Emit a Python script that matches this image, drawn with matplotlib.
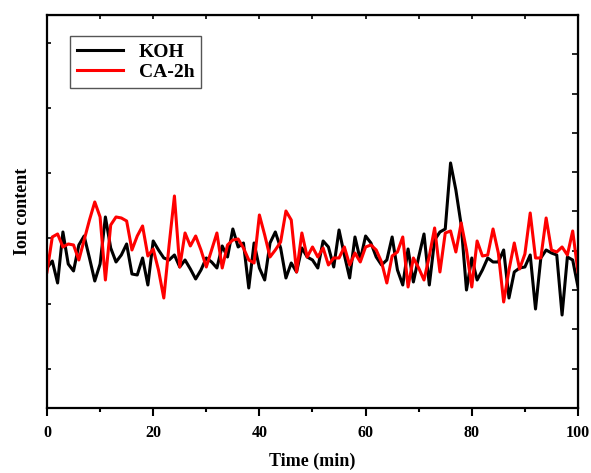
import numpy as np
import matplotlib
matplotlib.use("Agg")
import matplotlib.pyplot as plt
from matplotlib.ticker import MultipleLocator, NullFormatter

plt.rcParams['font.family'] = ['Liberation Serif', 'DejaVu Serif']
plt.rcParams['font.weight'] = 'bold'

# time in minutes, one reading per minute
time_min = np.arange(0, 101)

# ion content (arbitrary units, unlabeled axis)
koh = [140, 147, 125, 176, 144, 137, 163, 172, 150, 127, 144, 191, 160, 146, 153, 164, 134, 133, 150, 123, 167,
       158, 150, 148, 153, 141, 148, 139, 129, 138, 150, 146, 140, 162, 151, 179, 161, 165, 120, 165, 140,
       128, 165, 176, 160, 130, 145, 136, 160, 151, 148, 140, 167, 161, 141, 178, 153, 130, 171, 148, 172,
       165, 151, 143, 148, 171, 138, 123, 159, 126, 151, 174, 123, 168, 176, 179, 245, 218, 183, 118, 150,
       128, 138, 150, 146, 146, 158, 110, 136, 140, 141, 153, 99, 150, 158, 155, 153, 93, 151, 148, 121]
ca_2h = [136, 171, 174, 161, 164, 163, 148, 168, 188, 206, 191, 128, 183, 191, 190, 187, 158, 172, 182, 152, 159,
         138, 110, 163, 212, 141, 175, 162, 172, 158, 141, 158, 175, 140, 163, 168, 169, 160, 148, 145, 193,
         173, 151, 158, 166, 197, 188, 136, 175, 151, 161, 151, 160, 143, 150, 150, 161, 143, 155, 146, 161,
         163, 158, 146, 125, 152, 156, 171, 121, 150, 140, 128, 152, 180, 136, 175, 177, 156, 185, 158, 121,
         167, 152, 153, 179, 155, 106, 138, 165, 139, 154, 195, 150, 150, 190, 158, 156, 161, 153, 177, 136]

left_ticks = [39, 104, 170, 235, 300, 365]
right_ticks = np.linspace(0, 393, 11)

fig = plt.figure(figsize=(5.91, 4.73), dpi=100)
ax = fig.add_axes([0.0795, 0.1374, 0.8985, 0.831])

ax.plot(time_min, koh, color='black', lw=2.2, label='KOH')
ax.plot(time_min, ca_2h, color='#ff0000', lw=2.2, label='CA-2h')

ax.set_xlim(0, 100)
ax.set_ylim(0, 393)

ax.xaxis.set_major_locator(MultipleLocator(20))
ax.xaxis.set_minor_locator(MultipleLocator(10))
ax.set_yticks(left_ticks)
ax.yaxis.set_major_formatter(NullFormatter())
ax.tick_params(axis='x', which='major', direction='out', length=6, width=1.5, labelsize=11.5, pad=6)
ax.tick_params(axis='x', which='minor', direction='out', length=3, width=1.5)
ax.tick_params(axis='y', which='major', direction='in', length=3, width=1.2)

for sp in ax.spines.values():
    sp.set_linewidth(1.6)

# top and right axes carry their own ticks
top = ax.secondary_xaxis('top')
top.xaxis.set_major_locator(MultipleLocator(10))
top.tick_params(direction='in', length=3, width=1.2, labeltop=False)
right = ax.secondary_yaxis('right')
right.set_yticks(right_ticks)
right.tick_params(direction='in', length=4, width=1.2, labelright=False)

ax.set_xlabel('Time (min)', fontsize=13, fontweight='bold', labelpad=9)
ax.set_ylabel('Ion content', fontsize=13, fontweight='bold', labelpad=8)

leg = ax.legend(loc='upper left', bbox_to_anchor=(0.043, 0.946), borderaxespad=0,
                fancybox=False, framealpha=1, edgecolor='#555555', handlelength=2.4,
                prop={'size': 14, 'weight': 'bold'}, borderpad=0.35, labelspacing=0.15)
leg.get_frame().set_linewidth(1.0)

plt.savefig('out.png', dpi=100)
